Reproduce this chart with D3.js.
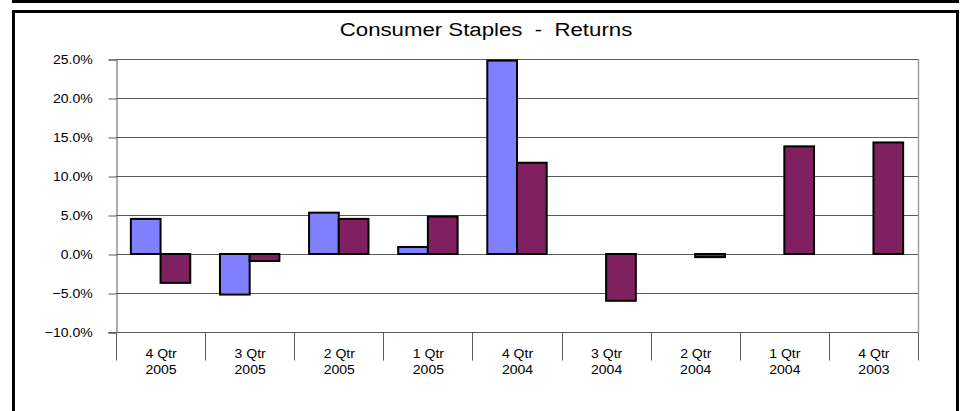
<!DOCTYPE html>
<html>
<head>
<meta charset="utf-8">
<script src="https://cdn.jsdelivr.net/npm/d3@7"></script>
<style>
  html, body { margin: 0; padding: 0; background: #fff; }
  svg { display: block; }
  text { font-family: Arial, "Liberation Sans", sans-serif; fill: #000; }
</style>
</head>
<body>
<svg id="chart" width="965" height="411"></svg>
<script>
const title = "Consumer Staples  -  Returns";
const categories = ["4 Qtr|2005", "3 Qtr|2005", "2 Qtr|2005", "1 Qtr|2005", "4 Qtr|2004", "3 Qtr|2004", "2 Qtr|2004", "1 Qtr|2004", "4 Qtr|2003"];
const seriesA = [4.5, -5.2, 5.3, 0.9, 24.8, null, null, null, null];
const seriesB = [-3.7, -0.9, 4.5, 4.8, 11.7, -6.0, -0.4, 13.8, 14.3];
const yTicks = [-10, -5, 0, 5, 10, 15, 20, 25];
const colors = ["#8080FF", "#802060"];

const svg = d3.select("#chart");
const plot = { left: 116, right: 918, top: 59, bottom: 332 };

// outer frames
svg.append("rect").attr("x", 13.5).attr("y", -20).attr("width", 944).attr("height", 21.5)
  .attr("fill", "none").attr("stroke", "#000").attr("stroke-width", 3);
svg.append("rect").attr("x", 13.5).attr("y", 11.5).attr("width", 944).attr("height", 430)
  .attr("fill", "none").attr("stroke", "#000").attr("stroke-width", 3);

// title
svg.append("text").attr("x", 486).attr("y", 36.5).attr("text-anchor", "middle")
  .style("white-space", "pre").attr("font-size", 19)
  .attr("transform", "translate(486,0) scale(1.17,1) translate(-486,0)")
  .text(title);

const x = d3.scaleBand().domain(categories).range([plot.left, plot.right]).paddingInner(0).paddingOuter(0);
const y = d3.scaleLinear().domain([-10, 25]).range([plot.bottom, plot.top]);
const bw = x.bandwidth() / 3;

// gridlines
svg.append("g").selectAll("line").data(yTicks).join("line")
  .attr("x1", plot.left).attr("x2", plot.right)
  .attr("y1", d => Math.round(y(d)) + 0.5).attr("y2", d => Math.round(y(d)) + 0.5)
  .attr("stroke", "#5a5a5a").attr("stroke-width", 1);

// right plot border
svg.append("line").attr("x1", plot.right + 0.5).attr("x2", plot.right + 0.5)
  .attr("y1", plot.top).attr("y2", plot.bottom).attr("stroke", "#a0a0a0").attr("stroke-width", 1.5);

// bars
const series = [seriesA, seriesB];
series.forEach((vals, si) => {
  svg.append("g").selectAll("rect")
    .data(vals.map((v, i) => ({ v, c: categories[i] })).filter(d => d.v !== null))
    .join("rect")
    .attr("x", d => x(d.c) + bw * 0.5 + si * bw)
    .attr("width", bw)
    .attr("y", d => y(Math.max(0, d.v)))
    .attr("height", d => Math.abs(y(d.v) - y(0)))
    .attr("fill", colors[si])
    .attr("stroke", "#000").attr("stroke-width", 2);
});

// y axis
const yAxis = svg.append("g").attr("transform", `translate(${plot.left + 0.5},0.5)`)
  .call(d3.axisLeft(y).tickValues(yTicks).tickSize(8).tickPadding(14)
    .tickFormat(d => d3.format(".1f")(d) + "%"));
yAxis.select(".domain").attr("stroke", "#5a5a5a");
yAxis.selectAll(".tick line").attr("stroke", "#5a5a5a");
yAxis.selectAll(".tick text").attr("font-size", 13).attr("fill", "#111")
  .attr("font-family", "Arial, 'Liberation Sans', sans-serif")
  .attr("transform", "scale(1.08,1)");

// x axis
const xAxis = svg.append("g").attr("transform", `translate(0.5,${plot.bottom + 0.5})`);
xAxis.append("line").attr("x1", plot.left - 8).attr("x2", plot.right).attr("y1", 0).attr("y2", 0)
  .attr("stroke", "#5a5a5a");
const bounds = categories.map(c => x(c)).concat([plot.right]);
xAxis.selectAll("line.sep").data(bounds).join("line").attr("class", "sep")
  .attr("x1", d => Math.round(d)).attr("x2", d => Math.round(d))
  .attr("y1", 0).attr("y2", 28).attr("stroke", "#5a5a5a");
const lbl = xAxis.selectAll("g.lbl").data(categories).join("g").attr("class", "lbl")
  .attr("transform", d => `translate(${x(d) + x.bandwidth() / 2},0) scale(1.08,1)`);
lbl.append("text").attr("y", 26).attr("text-anchor", "middle").attr("font-size", 13).attr("fill", "#111")
  .text(d => d.split("|")[0]);
lbl.append("text").attr("y", 42).attr("text-anchor", "middle").attr("font-size", 13).attr("fill", "#111")
  .text(d => d.split("|")[1]);
</script>
</body>
</html>
